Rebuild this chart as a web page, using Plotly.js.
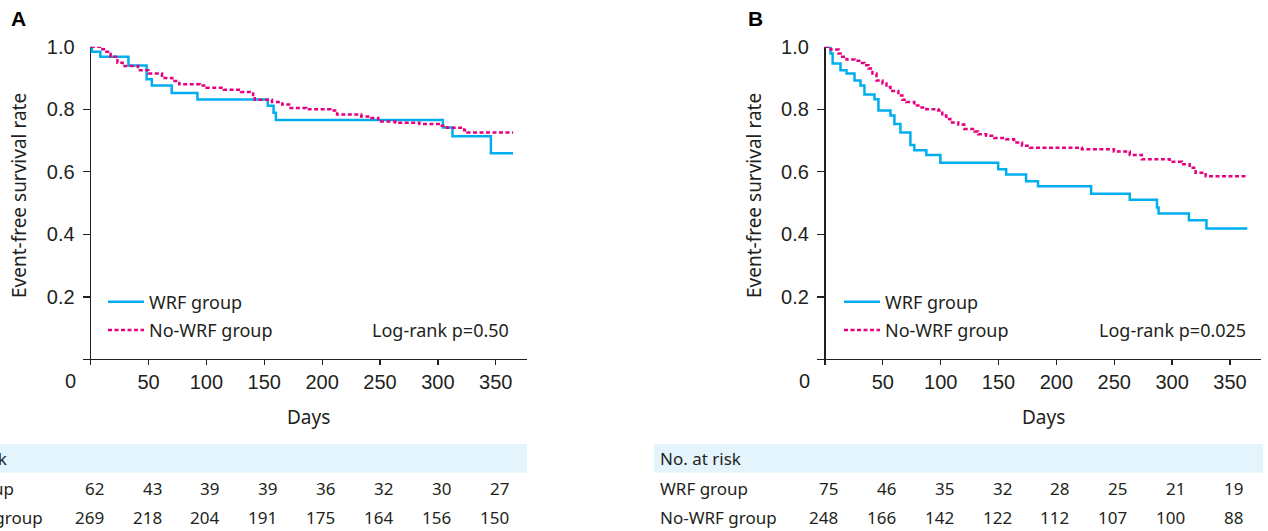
<!DOCTYPE html>
<html>
<head>
<meta charset="utf-8">
<script src="https://cdn.plot.ly/plotly-3.0.1.min.js"></script>
<style>html,body{margin:0;padding:0;background:#fff;}#chart{width:1268px;height:531px;}</style>
</head>
<body>
<div id="chart"></div>
<script>
// ---------- DATA ----------
const seriesNames = ['WRF group', 'No-WRF group'];
// Panel A (Kaplan-Meier steps)
const daysA_wrf   = [0, 1, 8.3, 32.6, 48.3, 52.8, 70, 92.2, 153, 158, 160, 304.3, 312.6, 345.8, 365];
const survA_wrf   = [1.0, 0.984, 0.968, 0.94, 0.896, 0.876, 0.852, 0.831, 0.811, 0.789, 0.766, 0.742, 0.714, 0.659, 0.659];
const daysA_nowrf = [0, 8, 11.3, 17.2, 23.1, 27.6, 40.9, 49.8, 61.6, 70.5, 76.5, 94.3, 100.2, 115.1, 129.9, 140.3, 141.8, 156.6, 165.5, 171.4, 186.2, 207, 212.9, 233.7, 242.6, 248.5, 263.3, 284.1, 301.9, 307.8, 322.7, 325.6, 365];
const survA_nowrf = [1.0, 0.992, 0.984, 0.968, 0.949, 0.938, 0.925, 0.914, 0.90, 0.89, 0.88, 0.876, 0.869, 0.862, 0.855, 0.839, 0.83, 0.823, 0.815, 0.804, 0.80, 0.796, 0.783, 0.777, 0.772, 0.761, 0.757, 0.753, 0.747, 0.741, 0.733, 0.726, 0.726];
// Panel B
const daysB_wrf   = [0, 4.8, 6.6, 13.4, 18.6, 25.5, 30.7, 34.1, 42.8, 46.2, 56.6, 60, 65.2, 73.8, 77.2, 87.6, 99.7, 149.7, 156.6, 173.8, 184.1, 230, 263.4, 286.9, 288.3, 314.5, 329.7, 365];
const survB_wrf   = [1.0, 0.978, 0.946, 0.925, 0.914, 0.892, 0.876, 0.847, 0.832, 0.796, 0.78, 0.753, 0.726, 0.686, 0.669, 0.654, 0.629, 0.608, 0.591, 0.570, 0.554, 0.53, 0.511, 0.486, 0.467, 0.445, 0.419, 0.419];
const daysB_nowrf = [0, 4.8, 11.7, 13.4, 18.6, 25.5, 30.7, 34.1, 37.6, 41, 44.5, 49.7, 53.1, 56.6, 63.4, 66.9, 70.3, 77.2, 80.7, 87.6, 97.9, 101.4, 104.8, 108.3, 115.2, 120.3, 129, 132.4, 139.3, 146.2, 156.6, 163.4, 170.3, 177.2, 222, 249.7, 263.4, 273.8, 297.9, 308.3, 315.2, 320.3, 329, 365];
const survB_nowrf = [1.0, 0.991, 0.978, 0.968, 0.959, 0.955, 0.948, 0.941, 0.93, 0.914, 0.892, 0.882, 0.871, 0.858, 0.844, 0.830, 0.823, 0.812, 0.806, 0.80, 0.796, 0.78, 0.769, 0.758, 0.751, 0.737, 0.729, 0.72, 0.715, 0.708, 0.704, 0.694, 0.683, 0.677, 0.672, 0.665, 0.654, 0.64, 0.632, 0.624, 0.613, 0.597, 0.586, 0.586];
// Number at risk table
const riskDays    = [0, 50, 100, 150, 200, 250, 300, 350];
const riskA_wrf   = [62, 43, 39, 39, 36, 32, 30, 27];
const riskA_nowrf = [269, 218, 204, 191, 175, 164, 156, 150];
const riskB_wrf   = [75, 46, 35, 32, 28, 25, 21, 19];
const riskB_nowrf = [248, 166, 142, 122, 112, 107, 100, 88];
const riskHeader  = 'No. at risk';
const pvalA = 'Log-rank p=0.50';
const pvalB = 'Log-rank p=0.025';
const xTickVals = [50, 100, 150, 200, 250, 300, 350];
const yTickVals = [0.2, 0.4, 0.6, 0.8, 1.0];
const panelLabels = ['A', 'B'];
const xTitle = 'Days';
const yTitle = 'Event-free survival rate';

// ---------- STYLE / LAYOUT ----------
const W = 1268, H = 531;
const px = x => x / W;
const py = y => 1 - y / H;
const BLUE = '#00AEEF', MAG = '#E5007E', TXT = '#231F20';
const SANS = '"Noto Sans", "Open Sans", sans-serif';
const ARIAL = '"Liberation Sans", Arial, sans-serif';
const XR = [-7, 377], YR = [-0.018, 1.0];
const plotTop = 46.7, plotBot = 365.1;
const panels = [
  {x0: 82.6, x1: 527.0, zero: 90.7, label: 18, ytitle: 19, bandX0: -20, bandX1: 527, rowLabel: -76, legX: 103, pval: pvalA, pvalX: 511},
  {x0: 816.9, x1: 1261.2, zero: 825, label: 755, ytitle: 754, bandX0: 654, bandX1: 1263.3, rowLabel: 658.3, legX: 839, pval: pvalB, pvalX: 1248}
];

function stepTrace(x, y, name, color, dash, xa, ya, leg) {
  return {x: x, y: y, type: 'scatter', mode: 'lines', name: name,
    line: {shape: 'hv', color: color, width: 2.5, dash: dash},
    xaxis: xa, yaxis: ya, legend: leg, legendgroup: leg + name, hoverinfo: 'x+y'};
}
const traces = [
  stepTrace(daysA_wrf, survA_wrf, seriesNames[0], BLUE, 'solid', 'x', 'y', 'legend'),
  stepTrace(daysA_nowrf, survA_nowrf, seriesNames[1], MAG, '4px,2.5px', 'x', 'y', 'legend'),
  stepTrace(daysB_wrf, survB_wrf, seriesNames[0], BLUE, 'solid', 'x2', 'y2', 'legend2'),
  stepTrace(daysB_nowrf, survB_nowrf, seriesNames[1], MAG, '4px,2.5px', 'x2', 'y2', 'legend2')
];

function xAxis(p, anchor) {
  return {domain: [px(p.x0), px(p.x1)], range: XR, anchor: anchor, showgrid: false, showline: false,
    zeroline: true, zerolinecolor: TXT, zerolinewidth: 1.3,
    tickmode: 'array', tickvals: xTickVals, ticks: 'inside', ticklen: 6, tickwidth: 1.3, tickcolor: TXT,
    ticklabelstandoff: 3, tickfont: {family: ARIAL, size: 20, color: TXT}, fixedrange: true};
}
function yAxis(anchor) {
  return {domain: [py(plotBot), py(plotTop)], range: YR, anchor: anchor, showgrid: false, showline: false,
    zeroline: true, zerolinecolor: TXT, zerolinewidth: 1.3,
    tickmode: 'array', tickvals: yTickVals, tickformat: '.1f', ticks: 'inside', ticklen: 8, tickwidth: 1.3, tickcolor: TXT,
    ticklabelstandoff: 7, tickfont: {family: ARIAL, size: 20, color: TXT}, fixedrange: true};
}

const annotations = [];
const shapes = [];
const riskRows = [[riskA_wrf, riskA_nowrf], [riskB_wrf, riskB_nowrf]];
panels.forEach((p, i) => {
  const xa = i === 0 ? 'x' : 'x2';
  annotations.push({xref: 'paper', yref: 'paper', x: px(p.label), y: py(18), xanchor: 'center', yanchor: 'middle',
    text: '<b>' + panelLabels[i] + '</b>', showarrow: false, font: {family: ARIAL, size: 21, color: '#000'}});
  annotations.push({xref: 'paper', yref: 'paper', x: px(p.ytitle), y: py(196), xanchor: 'center', yanchor: 'middle',
    text: yTitle, textangle: -90, showarrow: false, font: {family: SANS, size: 19, color: TXT}});
  annotations.push({xref: 'paper', yref: 'paper', x: px(p.zero - 20.5), y: py(381), xanchor: 'center', yanchor: 'middle',
    text: '0', showarrow: false, font: {family: ARIAL, size: 20, color: TXT}});
  annotations.push({xref: xa, yref: 'paper', x: (riskDays[0] + 377) / 2, y: py(417), xanchor: 'center', yanchor: 'middle',
    text: xTitle, showarrow: false, font: {family: SANS, size: 19, color: TXT}});
  annotations.push({xref: 'paper', yref: 'paper', x: px(p.pvalX), y: py(330), xanchor: 'right', yanchor: 'middle',
    text: p.pval, showarrow: false, font: {family: SANS, size: 18, color: TXT}});
  shapes.push({type: 'rect', xref: 'paper', yref: 'paper', x0: px(p.bandX0), x1: px(p.bandX1), y0: py(472.7), y1: py(444),
    fillcolor: '#E3F4FC', line: {width: 0}, layer: 'below'});
  [[riskHeader, 458.3], [seriesNames[0], 488.3], [seriesNames[1], 517.3]].forEach(([t, yy]) => {
    annotations.push({xref: 'paper', yref: 'paper', x: px(p.rowLabel), y: py(yy), xanchor: 'left', yanchor: 'middle',
      text: t, showarrow: false, font: {family: SANS, size: 17, color: TXT}});
  });
  riskRows[i].forEach((row, r) => {
    row.forEach((v, k) => {
      annotations.push({xref: xa, yref: 'paper', x: riskDays[k], y: py(r === 0 ? 488.3 : 517.3), xanchor: 'right', yanchor: 'middle',
        xshift: 15, text: String(v), showarrow: false, font: {family: SANS, size: 17, color: TXT}});
    });
  });
});

function legendCfg(p) {
  return {x: px(p.legX), y: py(283.5), xanchor: 'left', yanchor: 'top', bgcolor: 'rgba(0,0,0,0)', borderwidth: 0,
    font: {family: SANS, size: 18, color: TXT}, traceorder: 'grouped', tracegroupgap: 2, itemwidth: 36,
    itemclick: false, itemdoubleclick: false};
}

const layout = {
  width: W, height: H, margin: {l: 0, r: 0, t: 0, b: 0}, paper_bgcolor: '#fff', plot_bgcolor: 'rgba(0,0,0,0)',
  showlegend: true,
  xaxis: xAxis(panels[0], 'y'), yaxis: yAxis('x'),
  xaxis2: xAxis(panels[1], 'y2'), yaxis2: yAxis('x2'),
  legend: legendCfg(panels[0]), legend2: legendCfg(panels[1]),
  annotations: annotations, shapes: shapes
};
Plotly.newPlot('chart', traces, layout, {staticPlot: true, displayModeBar: false});
</script>
</body>
</html>
